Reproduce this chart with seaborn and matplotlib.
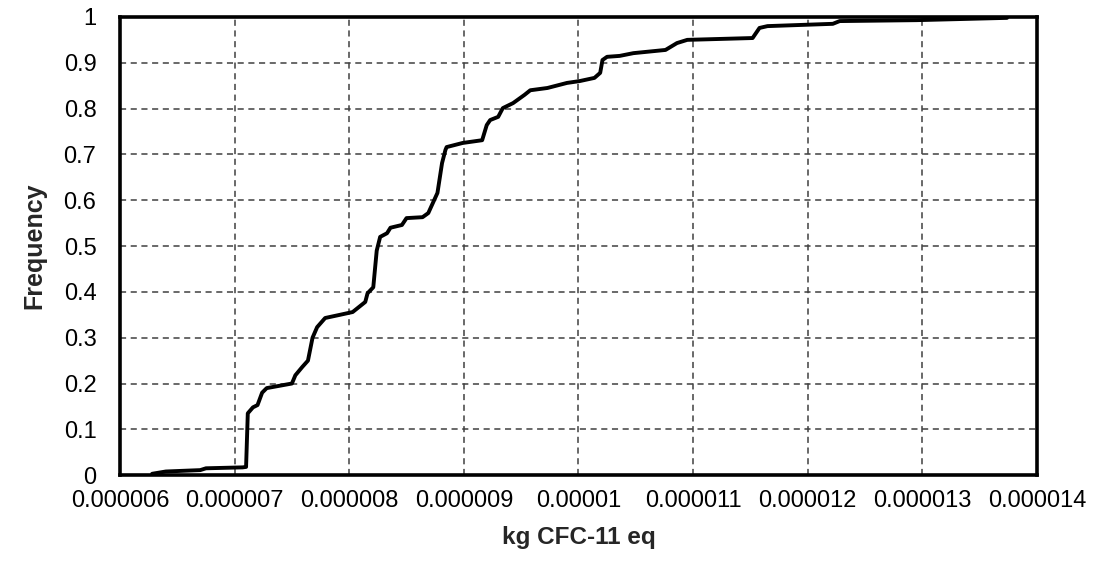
import matplotlib
matplotlib.use("Agg")
import matplotlib.pyplot as plt
import seaborn as sns
import pandas as pd

# Cumulative distribution (x in kg CFC-11 eq)
x_micro = [6.28, 6.40, 6.70, 6.75, 7.07, 7.10, 7.115, 7.16, 7.20, 7.24, 7.28, 7.50, 7.53, 7.59,
           7.64, 7.68, 7.72, 7.79, 7.92, 8.03, 8.14, 8.16, 8.21, 8.24, 8.27, 8.33,
           8.36, 8.46, 8.50, 8.64, 8.69, 8.73, 8.77, 8.81, 8.84, 8.85, 8.99, 9.16,
           9.20, 9.23, 9.30, 9.34, 9.43, 9.53, 9.58, 9.73, 9.90, 10.01, 10.14, 10.19,
           10.21, 10.25, 10.36, 10.48, 10.76, 10.86, 10.95, 11.52, 11.58, 11.65,
           12.22, 12.28, 12.95, 13.74]
freq = [0.003, 0.008, 0.011, 0.015, 0.017, 0.018, 0.135, 0.148, 0.153, 0.180, 0.190, 0.200, 0.218, 0.236,
        0.250, 0.300, 0.323, 0.343, 0.350, 0.356, 0.378, 0.397, 0.410, 0.490, 0.520, 0.528,
        0.540, 0.546, 0.561, 0.563, 0.572, 0.594, 0.616, 0.681, 0.710, 0.716, 0.725, 0.731,
        0.764, 0.775, 0.782, 0.801, 0.812, 0.830, 0.840, 0.845, 0.856, 0.860, 0.867, 0.878,
        0.906, 0.913, 0.915, 0.921, 0.928, 0.943, 0.950, 0.954, 0.976, 0.980,
        0.985, 0.991, 0.993, 0.998]

x_ticks = [6e-6, 7e-6, 8e-6, 9e-6, 1e-5, 1.1e-5, 1.2e-5, 1.3e-5, 1.4e-5]
x_tick_labels = ["0.000006", "0.000007", "0.000008", "0.000009", "0.00001",
                 "0.000011", "0.000012", "0.000013", "0.000014"]
y_ticks = [0, 0.1, 0.2, 0.3, 0.4, 0.5, 0.6, 0.7, 0.8, 0.9, 1.0]
y_tick_labels = ["0", "0.1", "0.2", "0.3", "0.4", "0.5", "0.6", "0.7", "0.8", "0.9", "1"]

sns.set_style("white")
plt.rcParams['font.family'] = ['Liberation Sans', 'DejaVu Sans']

df = pd.DataFrame({"x": [v * 1e-6 for v in x_micro], "y": freq})

fig = plt.figure(figsize=(10.96, 5.65), dpi=100)
ax = fig.add_axes([0.1095, 0.159, 0.8365, 0.811])

ax.grid(True, which="major", linestyle=(0, (4, 3)), color="#404040", linewidth=1.1)
ax.set_axisbelow(True)

sns.lineplot(data=df, x="x", y="y", ax=ax, color="black", linewidth=2.8,
             sort=False, estimator=None, solid_joinstyle="round", solid_capstyle="round")

ax.set_xlim(6e-6, 1.4e-5)
ax.set_ylim(0, 1)
ax.set_xticks(x_ticks)
ax.set_xticklabels(x_tick_labels, fontsize=17)
ax.set_yticks(y_ticks)
ax.set_yticklabels(y_tick_labels, fontsize=17)
ax.tick_params(axis="x", length=0, pad=11, colors="black")
ax.tick_params(axis="y", length=0, pad=17, colors="black")

for s in ax.spines.values():
    s.set_visible(True)
    s.set_color("black")
    s.set_linewidth(2.6)

ax.set_xlabel("kg CFC-11 eq", fontsize=17.5, fontweight="bold", labelpad=10)
ax.set_ylabel("Frequency", fontsize=18, fontweight="bold", labelpad=12)

fig.savefig("out.png", dpi=100)
